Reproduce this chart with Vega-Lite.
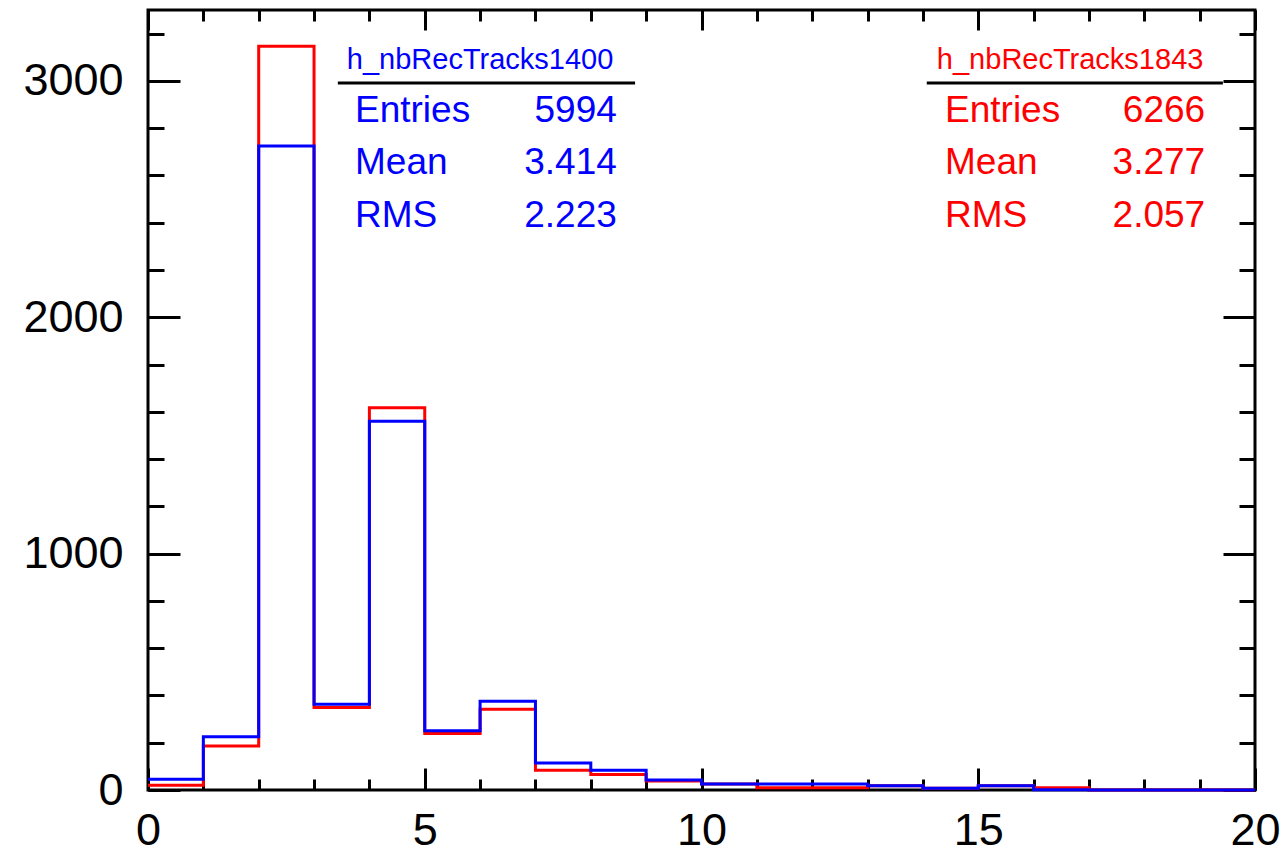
{
  "$schema": "https://vega.github.io/schema/vega-lite/v6.json",
  "autosize": {"type": "none"},
  "width": 1107,
  "height": 780,
  "padding": {"left": 148, "top": 10, "right": 29, "bottom": 63},
  "background": "#ffffff",
  "view": {"stroke": "#000000", "strokeWidth": 3},
  "config": {
    "axis": {
      "domain": false,
      "grid": false,
      "title": null,
      "tickColor": "#000000",
      "tickWidth": 3,
      "labelFont": "Liberation Sans",
      "labelFontSize": 45,
      "labelColor": "#000000",
      "labelFlush": false,
      "labelOverlap": false,
      "format": "d"
    },
    "text": {"font": "Liberation Sans"}
  },
  "datasets": {
    "hist": [
      {"series": "h_nbRecTracks1843", "bin": 0, "count": 20},
      {"series": "h_nbRecTracks1843", "bin": 1, "count": 186},
      {"series": "h_nbRecTracks1843", "bin": 2, "count": 3147},
      {"series": "h_nbRecTracks1843", "bin": 3, "count": 349},
      {"series": "h_nbRecTracks1843", "bin": 4, "count": 1617},
      {"series": "h_nbRecTracks1843", "bin": 5, "count": 239},
      {"series": "h_nbRecTracks1843", "bin": 6, "count": 342},
      {"series": "h_nbRecTracks1843", "bin": 7, "count": 84},
      {"series": "h_nbRecTracks1843", "bin": 8, "count": 66},
      {"series": "h_nbRecTracks1843", "bin": 9, "count": 38},
      {"series": "h_nbRecTracks1843", "bin": 10, "count": 25},
      {"series": "h_nbRecTracks1843", "bin": 11, "count": 10},
      {"series": "h_nbRecTracks1843", "bin": 12, "count": 10},
      {"series": "h_nbRecTracks1843", "bin": 13, "count": 18},
      {"series": "h_nbRecTracks1843", "bin": 14, "count": 7},
      {"series": "h_nbRecTracks1843", "bin": 15, "count": 18},
      {"series": "h_nbRecTracks1843", "bin": 16, "count": 10},
      {"series": "h_nbRecTracks1843", "bin": 17, "count": 0},
      {"series": "h_nbRecTracks1843", "bin": 18, "count": 0},
      {"series": "h_nbRecTracks1843", "bin": 19, "count": 0},
      {"series": "h_nbRecTracks1843", "bin": 20, "count": 0},
      {"series": "h_nbRecTracks1400", "bin": 0, "count": 45},
      {"series": "h_nbRecTracks1400", "bin": 1, "count": 225},
      {"series": "h_nbRecTracks1400", "bin": 2, "count": 2725},
      {"series": "h_nbRecTracks1400", "bin": 3, "count": 363},
      {"series": "h_nbRecTracks1400", "bin": 4, "count": 1560},
      {"series": "h_nbRecTracks1400", "bin": 5, "count": 251},
      {"series": "h_nbRecTracks1400", "bin": 6, "count": 376},
      {"series": "h_nbRecTracks1400", "bin": 7, "count": 114},
      {"series": "h_nbRecTracks1400", "bin": 8, "count": 84},
      {"series": "h_nbRecTracks1400", "bin": 9, "count": 42},
      {"series": "h_nbRecTracks1400", "bin": 10, "count": 25},
      {"series": "h_nbRecTracks1400", "bin": 11, "count": 25},
      {"series": "h_nbRecTracks1400", "bin": 12, "count": 25},
      {"series": "h_nbRecTracks1400", "bin": 13, "count": 18},
      {"series": "h_nbRecTracks1400", "bin": 14, "count": 7},
      {"series": "h_nbRecTracks1400", "bin": 15, "count": 18},
      {"series": "h_nbRecTracks1400", "bin": 16, "count": 1},
      {"series": "h_nbRecTracks1400", "bin": 17, "count": 0},
      {"series": "h_nbRecTracks1400", "bin": 18, "count": 0},
      {"series": "h_nbRecTracks1400", "bin": 19, "count": 0},
      {"series": "h_nbRecTracks1400", "bin": 20, "count": 0}
    ],
    "stats": [
      {"series": "h_nbRecTracks1400", "label": "h_nbRecTracks1400", "value": "", "row": 0},
      {"series": "h_nbRecTracks1400", "label": "Entries", "value": "5994", "row": 1},
      {"series": "h_nbRecTracks1400", "label": "Mean", "value": "3.414", "row": 2},
      {"series": "h_nbRecTracks1400", "label": "RMS", "value": "2.223", "row": 3},
      {"series": "h_nbRecTracks1843", "label": "h_nbRecTracks1843", "value": "", "row": 0},
      {"series": "h_nbRecTracks1843", "label": "Entries", "value": "6266", "row": 1},
      {"series": "h_nbRecTracks1843", "label": "Mean", "value": "3.277", "row": 2},
      {"series": "h_nbRecTracks1843", "label": "RMS", "value": "2.057", "row": 3}
    ]
  },
  "resolve": {
    "scale": {"y": "independent"},
    "axis": {"x": "independent", "y": "independent"}
  },
  "layer": [
    {
      "data": {"name": "hist"},
      "transform": [{"filter": "datum.series === 'h_nbRecTracks1843'"}],
      "mark": {"type": "line", "interpolate": "step-after", "strokeWidth": 3, "color": "#ff0000"},
      "encoding": {
        "x": {"field": "bin", "type": "quantitative", "scale": {"domain": [0, 20], "nice": false},
              "axis": {"orient": "bottom", "values": [0, 5, 10, 15, 20], "tickSize": -22, "labelPadding": 40, "labelAngle": 0, "labelBaseline": "top"}},
        "y": {"field": "count", "type": "quantitative", "scale": {"domain": [0, 3300], "nice": false},
              "axis": {"orient": "left", "values": [0, 1000, 2000, 3000], "tickSize": -32, "labelPadding": 57, "labelBaseline": "middle"}}
      }
    },
    {
      "data": {"name": "hist"},
      "transform": [{"filter": "datum.series === 'h_nbRecTracks1400'"}],
      "mark": {"type": "line", "interpolate": "step-after", "strokeWidth": 3, "color": "#0000ff"},
      "encoding": {
        "x": {"field": "bin", "type": "quantitative", "scale": {"domain": [0, 20], "nice": false},
              "axis": {"orient": "bottom", "values": [0,1,2,3,4,5,6,7,8,9,10,11,12,13,14,15,16,17,18,19,20], "tickSize": -11, "labels": false}},
        "y": {"field": "count", "type": "quantitative", "scale": {"domain": [0, 3300], "nice": false},
              "axis": {"orient": "left", "values": [0,200,400,600,800,1000,1200,1400,1600,1800,2000,2200,2400,2600,2800,3000,3200], "tickSize": -16, "labels": false}}
      }
    },
    {
      "data": {"name": "hist"},
      "mark": {"type": "line", "opacity": 0},
      "encoding": {
        "x": {"field": "bin", "type": "quantitative", "scale": {"domain": [0, 20], "nice": false},
              "axis": {"orient": "top", "values": [0, 5, 10, 15, 20], "tickSize": -20, "labels": false}},
        "y": {"field": "count", "type": "quantitative", "scale": {"domain": [0, 3300], "nice": false},
              "axis": {"orient": "right", "values": [0, 1000, 2000, 3000], "tickSize": -32, "labels": false}}
      }
    },
    {
      "data": {"name": "hist"},
      "mark": {"type": "line", "opacity": 0},
      "encoding": {
        "x": {"field": "bin", "type": "quantitative", "scale": {"domain": [0, 20], "nice": false},
              "axis": {"orient": "top", "values": [0,1,2,3,4,5,6,7,8,9,10,11,12,13,14,15,16,17,18,19,20], "tickSize": -11, "labels": false}},
        "y": {"field": "count", "type": "quantitative", "scale": {"domain": [0, 3300], "nice": false},
              "axis": {"orient": "right", "values": [0,200,400,600,800,1000,1200,1400,1600,1800,2000,2200,2400,2600,2800,3000,3200], "tickSize": -16, "labels": false}}
      }
    },
    {
      "data": {"name": "stats"},
      "transform": [{"filter": "datum.series === 'h_nbRecTracks1400' && datum.row > 0"}],
      "mark": {"type": "text", "align": "left", "baseline": "alphabetic", "fontSize": 37, "color": "#0000ff"},
      "encoding": {
        "x": {"datum": 3.74, "type": "quantitative", "axis": null},
        "y": {"field": "row", "type": "quantitative", "scale": {"domain": [-1.12, 13.689], "reverse": true, "nice": false, "zero": false}, "axis": null},
        "text": {"field": "label"}
      }
    },
    {
      "data": {"name": "stats"},
      "transform": [{"filter": "datum.series === 'h_nbRecTracks1400' && datum.row > 0"}],
      "mark": {"type": "text", "align": "right", "baseline": "alphabetic", "fontSize": 37, "color": "#0000ff"},
      "encoding": {
        "x": {"datum": 8.47, "type": "quantitative", "axis": null},
        "y": {"field": "row", "type": "quantitative", "scale": {"domain": [-1.12, 13.689], "reverse": true, "nice": false, "zero": false}, "axis": null},
        "text": {"field": "value"}
      }
    },
    {
      "data": {"name": "stats"},
      "transform": [{"filter": "datum.series === 'h_nbRecTracks1843' && datum.row > 0"}],
      "mark": {"type": "text", "align": "left", "baseline": "alphabetic", "fontSize": 37, "color": "#ff0000"},
      "encoding": {
        "x": {"datum": 14.40, "type": "quantitative", "axis": null},
        "y": {"field": "row", "type": "quantitative", "scale": {"domain": [-1.12, 13.689], "reverse": true, "nice": false, "zero": false}, "axis": null},
        "text": {"field": "label"}
      }
    },
    {
      "data": {"name": "stats"},
      "transform": [{"filter": "datum.series === 'h_nbRecTracks1843' && datum.row > 0"}],
      "mark": {"type": "text", "align": "right", "baseline": "alphabetic", "fontSize": 37, "color": "#ff0000"},
      "encoding": {
        "x": {"datum": 19.10, "type": "quantitative", "axis": null},
        "y": {"field": "row", "type": "quantitative", "scale": {"domain": [-1.12, 13.689], "reverse": true, "nice": false, "zero": false}, "axis": null},
        "text": {"field": "value"}
      }
    },
    {
      "data": {"name": "stats"},
      "transform": [{"filter": "datum.series === 'h_nbRecTracks1400' && datum.row === 0"}],
      "mark": {"type": "text", "align": "center", "baseline": "alphabetic", "fontSize": 29, "color": "#0000ff"},
      "encoding": {
        "x": {"datum": 6.0, "type": "quantitative", "axis": null},
        "y": {"field": "row", "type": "quantitative", "scale": {"domain": [-1.12, 13.689], "reverse": true, "nice": false, "zero": false}, "axis": null},
        "text": {"field": "label"}
      }
    },
    {
      "data": {"name": "stats"},
      "transform": [{"filter": "datum.series === 'h_nbRecTracks1843' && datum.row === 0"}],
      "mark": {"type": "text", "align": "center", "baseline": "alphabetic", "fontSize": 29, "color": "#ff0000"},
      "encoding": {
        "x": {"datum": 16.66, "type": "quantitative", "axis": null},
        "y": {"field": "row", "type": "quantitative", "scale": {"domain": [-1.12, 13.689], "reverse": true, "nice": false, "zero": false}, "axis": null},
        "text": {"field": "label"}
      }
    },
    {
      "data": {"name": "stats"},
      "transform": [{"filter": "datum.series === 'h_nbRecTracks1400' && datum.row === 0"}],
      "mark": {"type": "rule", "strokeWidth": 3, "color": "#000000"},
      "encoding": {
        "x": {"datum": 3.43, "type": "quantitative", "axis": null},
        "x2": {"datum": 8.80},
        "y": {"datum": 0.266, "type": "quantitative", "scale": {"domain": [-1.12, 13.689], "reverse": true, "nice": false, "zero": false}, "axis": null}
      }
    },
    {
      "data": {"name": "stats"},
      "transform": [{"filter": "datum.series === 'h_nbRecTracks1843' && datum.row === 0"}],
      "mark": {"type": "rule", "strokeWidth": 3, "color": "#000000"},
      "encoding": {
        "x": {"datum": 14.07, "type": "quantitative", "axis": null},
        "x2": {"datum": 19.42},
        "y": {"datum": 0.266, "type": "quantitative", "scale": {"domain": [-1.12, 13.689], "reverse": true, "nice": false, "zero": false}, "axis": null}
      }
    }
  ]
}
